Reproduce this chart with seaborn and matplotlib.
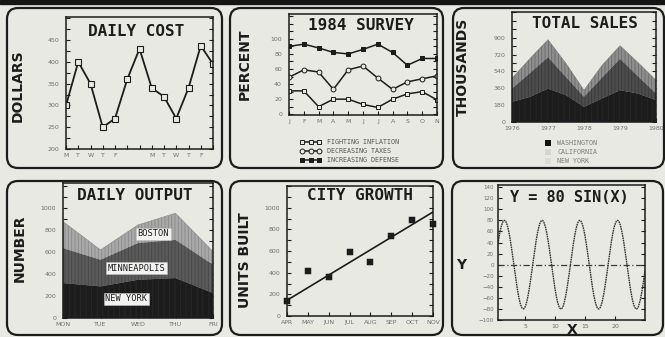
import numpy as np
import matplotlib
matplotlib.use("Agg")
import matplotlib.pyplot as plt
from matplotlib.patches import FancyBboxPatch, Rectangle, Patch
from matplotlib.ticker import MultipleLocator, FixedLocator
import seaborn as sns

# ---------------- data ----------------
cost_days = ["M", "T", "W", "T", "F", "", "", "M", "T", "W", "T", "F", ""]
cost_values = [300, 400, 350, 250, 270, 360, 430, 340, 320, 270, 340, 437, 395]

survey_months = ["J", "F", "M", "A", "M", "J", "J", "A", "S", "O", "N"]
fighting_inflation = [31, 31, 10, 20, 20, 13, 9, 20, 27, 30, 19]
decreasing_taxes = [49, 59, 56, 33, 59, 64, 48, 33, 43, 47, 51]
increasing_defense = [90, 93, 88, 82, 80, 86, 93, 82, 65, 74, 74]
survey_labels = ["FIGHTING INFLATION", "DECREASING TAXES", "INCREASING DEFENSE"]

sales_years = [1976, 1976.5, 1977, 1977.5, 1978, 1978.5, 1979, 1979.5, 1980]
sales_washington = [215, 268, 357, 286, 162, 251, 339, 304, 233]
sales_california = [142, 254, 334, 194, 106, 222, 335, 183, 71]
sales_new_york = [109, 156, 188, 145, 71, 131, 141, 148, 141]
sales_year_ticks = [1976, 1977, 1978, 1979, 1980]
sales_labels = ["WASHINGTON", "CALIFORNIA", "NEW YORK"]

output_days = ["MON", "TUE", "WED", "THU", "FRI"]
output_new_york = [318, 288, 348, 364, 227]
output_minneapolis = [318, 242, 334, 348, 258]
output_boston = [243, 91, 166, 243, 121]

growth_months = ["APR", "MAY", "JUN", "JUL", "AUG", "SEP", "OCT", "NOV"]
units_built = [135, 413, 364, 594, 495, 743, 887, 847]
trend_ends = [145, 960]

sine_amplitude = 80
sine_x_range = (0.5, 25.0)

# ---------------- style ----------------
BG = "#e9e9e4"
INK = "#1c1c1c"
TICK_TXT = "#6e6e6e"
MONO = "DejaVu Sans Mono"

sns.set_theme(style="ticks")
plt.rcParams["font.family"] = ["DejaVu Sans"]
plt.rcParams["hatch.linewidth"] = 0.6

W, H = 665, 337
fig = plt.figure(figsize=(W / 100, H / 100), dpi=100, facecolor=BG)


def px_axes(l, t, r, b):
    return fig.add_axes([l / W, 1 - b / H, (r - l) / W, (b - t) / H])


def frame(l, t, r, b):
    fig.add_artist(FancyBboxPatch((l / 100, (H - b) / 100), (r - l) / 100, (b - t) / 100,
                                  boxstyle="round,pad=0,rounding_size=0.11",
                                  transform=fig.dpi_scale_trans, facecolor="none",
                                  edgecolor=INK, linewidth=1.6, zorder=5))


def fig_text(x, y, s, **kw):
    fig.text(x / W, 1 - y / H, s, ha="center", va="center", **kw)


def title(x, y, s, size=11.5):
    fig_text(x, y, s, family=MONO, size=size, color=INK, weight="bold")


def side_label(x, y, s, rotation=90):
    fig_text(x, y, s, rotation=rotation, size=10, color=INK, weight="bold")


def style(ax, major, minor):
    ax.set_facecolor(BG)
    for s in ax.spines.values():
        s.set_visible(True)
        s.set_linewidth(1.1)
        s.set_color(INK)
    ax.yaxis.set_major_locator(major)
    ax.yaxis.set_minor_locator(minor)
    ax.tick_params(axis="both", which="both", direction="in", length=3, width=0.8,
                   colors=INK, labelcolor=TICK_TXT, labelsize=4.5, right=True)
    ax.tick_params(axis="y", pad=5)
    ax.tick_params(axis="x", pad=3)
    ax.set_xlabel("")
    ax.set_ylabel("")


# top band
fig.add_artist(Rectangle((0, (H - 4) / 100), W / 100, 4 / 100,
                         transform=fig.dpi_scale_trans, color="#151515", zorder=6))

for box in [(7, 8, 222, 168), (230, 8, 443, 168), (453, 8, 664, 168),
            (7, 181, 222, 335), (230, 181, 443, 335), (452, 181, 663, 335)]:
    frame(*box)

# ---------------- DAILY COST ----------------
ax1 = px_axes(66, 17, 213, 149)
x1 = np.arange(len(cost_values))
sns.lineplot(x=x1, y=cost_values, ax=ax1, color=INK, linewidth=1.3,
             marker="s", markersize=4.5, markerfacecolor=BG, markeredgecolor=INK,
             markeredgewidth=0.8)
ax1.set_xlim(0, len(cost_values) - 1)
ax1.set_ylim(200, 503)
style(ax1, FixedLocator([200, 250, 300, 350, 400, 450]), MultipleLocator(25))
ax1.set_xticks(x1)
ax1.set_xticklabels(cost_days)
title(136, 31, "DAILY COST")
side_label(18, 86, "DOLLARS")

# ---------------- 1984 SURVEY ----------------
ax2 = px_axes(289, 14, 437, 115)
x2 = np.arange(len(survey_months))
sns.lineplot(x=x2, y=fighting_inflation, ax=ax2, color=INK, linewidth=1.1,
             marker="s", markersize=3.5, markerfacecolor=BG, markeredgecolor=INK,
             markeredgewidth=0.7, label=survey_labels[0])
sns.lineplot(x=x2, y=decreasing_taxes, ax=ax2, color=INK, linewidth=1.1,
             marker="o", markersize=3.5, markerfacecolor=BG, markeredgecolor=INK,
             markeredgewidth=0.7, label=survey_labels[1])
sns.lineplot(x=x2, y=increasing_defense, ax=ax2, color=INK, linewidth=1.1,
             marker="s", markersize=3.5, markerfacecolor=INK, markeredgecolor=INK,
             label=survey_labels[2])
ax2.set_xlim(0, len(survey_months) - 1)
ax2.set_ylim(-1, 133)
style(ax2, FixedLocator([0, 20, 40, 60, 80, 100]), MultipleLocator(10))
ax2.set_xticks(x2)
ax2.set_xticklabels(survey_months)
ax2.legend(loc="upper left", bbox_to_anchor=(300 / W, 1 - 139 / H),
           bbox_transform=fig.transFigure, frameon=False,
           prop={"family": MONO, "size": 4.8}, labelcolor="#555555",
           handlelength=3.2, numpoints=3, labelspacing=0.45, borderpad=0,
           handletextpad=0.8, borderaxespad=0)
title(361, 26, "1984 SURVEY")
side_label(245, 64, "PERCENT")

# ---------------- TOTAL SALES ----------------
ax3 = px_axes(512, 12, 656, 122)
s1 = np.array(sales_washington)
s2 = s1 + np.array(sales_california)
s3 = s2 + np.array(sales_new_york)
ax3.fill_between(sales_years, s2, s3, facecolor="#8e8e8e", edgecolor="#6c6c6c",
                 hatch="|||||", linewidth=0)
ax3.fill_between(sales_years, s1, s2, facecolor="#4c4c4c", edgecolor="#3a3a3a",
                 hatch="|||||", linewidth=0)
ax3.fill_between(sales_years, 0, s1, facecolor="#1c1c1c", edgecolor="#262626",
                 hatch="|||", linewidth=0)
sns.lineplot(x=sales_years, y=s3, ax=ax3, color="#7a7a7a", linewidth=0.4)
ax3.set_xlim(1976, 1980)
ax3.set_ylim(0, 1175)
style(ax3, FixedLocator([0, 180, 360, 540, 720, 900]), MultipleLocator(90))
ax3.set_xticks(sales_year_ticks)
ax3.set_xticklabels([str(y) for y in sales_year_ticks])
sales_handles = [Patch(facecolor="#111111", edgecolor="none"),
                 Patch(facecolor="#d6d6d1", edgecolor="none"),
                 Patch(facecolor="#dcdcd7", edgecolor="none")]
ax3.legend(sales_handles, sales_labels, loc="upper left",
           bbox_to_anchor=(545 / W, 1 - 140 / H), bbox_transform=fig.transFigure,
           frameon=False, prop={"family": MONO, "size": 4.8}, labelcolor="#7a7a7a",
           handlelength=0.9, handleheight=0.9, labelspacing=0.45, borderpad=0,
           handletextpad=0.9, borderaxespad=0)
title(585, 24, "TOTAL SALES")
side_label(463, 67, "THOUSANDS")

# ---------------- DAILY OUTPUT ----------------
ax4 = px_axes(63, 183, 213, 318)
x4 = np.arange(len(output_days))
o1 = np.array(output_new_york)
o2 = o1 + np.array(output_minneapolis)
o3 = o2 + np.array(output_boston)
ax4.fill_between(x4, o2, o3, facecolor="#a8a8a8", edgecolor="#8c8c8c",
                 hatch="|||||", linewidth=0)
ax4.fill_between(x4, o1, o2, facecolor="#5a5a5a", edgecolor="#484848",
                 hatch="|||||", linewidth=0)
ax4.fill_between(x4, 0, o1, facecolor="#1c1c1c", edgecolor="#282828",
                 hatch="|||", linewidth=0)
sns.lineplot(x=x4, y=o3, ax=ax4, color="#8a8a8a", linewidth=0.4)
ax4.set_xlim(0, len(output_days) - 1)
ax4.set_ylim(0, 1230)
style(ax4, FixedLocator([0, 200, 400, 600, 800, 1000]), MultipleLocator(100))
ax4.set_xticks(x4)
ax4.set_xticklabels(output_days)
label_box = dict(facecolor="#f2f2f0", edgecolor="#bdbdbd", linewidth=0.4, pad=1.0)
for (lx, ly, name) in [(2.41, 766, "BOSTON"), (1.96, 455, "MINNEAPOLIS"),
                       (1.69, 176, "NEW YORK")]:
    ax4.text(lx, ly, name, ha="center", va="center", family=MONO, size=6.2,
             color=INK, bbox=label_box)
title(135, 196, "DAILY OUTPUT")
side_label(20, 248, "NUMBER")

# ---------------- CITY GROWTH ----------------
ax5 = px_axes(287, 186, 433, 316)
x5 = np.arange(len(growth_months))
sns.lineplot(x=[x5[0], x5[-1]], y=trend_ends, ax=ax5, color=INK, linewidth=1.2)
sns.scatterplot(x=x5, y=units_built, ax=ax5, marker="s", s=20, color=INK,
                edgecolor=INK, zorder=4, clip_on=False)
ax5.set_xlim(0, len(growth_months) - 1)
ax5.set_ylim(0, 1200)
style(ax5, FixedLocator([0, 200, 400, 600, 800, 1000]), MultipleLocator(100))
ax5.set_xticks(x5)
ax5.set_xticklabels(growth_months)
title(360, 196, "CITY GROWTH")
side_label(245, 260, "UNITS BUILT")

# ---------------- Y = 80 SIN(X) ----------------
ax6 = px_axes(498, 185, 645, 320)
xs = np.linspace(sine_x_range[0], sine_x_range[1], 800)
ax6.axhline(0, color="#3a3a3a", linewidth=0.9, linestyle=(0, (5, 2, 1, 2)))
sns.lineplot(x=xs, y=sine_amplitude * np.sin(xs), ax=ax6, color="#333333",
             linewidth=1.0, linestyle=(0, (1.2, 0.5)))
ax6.set_xlim(*sine_x_range)
ax6.set_ylim(-100, 144)
style(ax6, MultipleLocator(20), MultipleLocator(20))
ax6.tick_params(axis="y", pad=3, labelsize=4)
ax6.set_xticks([5, 10, 15, 20])
title(569, 198, "Y = 80 SIN(X)", size=11)
side_label(461, 265, "Y", rotation=0)
side_label(572, 330, "X", rotation=0)

fig.savefig("out.png", dpi=100, facecolor=BG)
